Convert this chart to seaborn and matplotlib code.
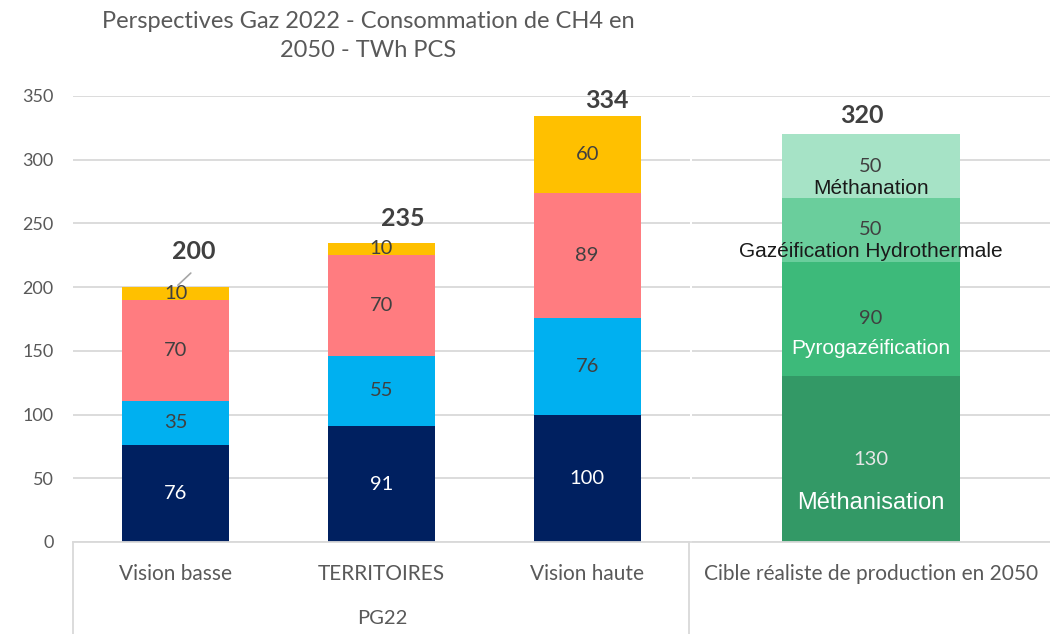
import matplotlib
matplotlib.use('Agg')
import matplotlib.pyplot as plt
import seaborn as sns
import pandas as pd
import numpy as np
from matplotlib.lines import Line2D

# data (TWh PCS), segments listed bottom to top
categories = ['Vision basse', 'TERRITOIRES', 'Vision haute']
navy_vals = [76, 91, 100]
blue_vals = [35, 55, 76]
salmon_vals = [79, 79, 98]
gold_vals = [10, 10, 60]
navy_labels = ['76', '91', '100']
blue_labels = ['35', '55', '76']
salmon_labels = ['70', '70', '89']
gold_labels = ['10', '10', '60']
totals = [200, 235, 334]
group_label = 'PG22'

target_category = ['Cible réaliste de production en 2050']
target_vals = [130, 90, 50, 50]
target_names = ['Méthanisation', 'Pyrogazéification', 'Gazéification Hydrothermale', 'Méthanation']
target_total = 320

TITLE = 'Perspectives Gaz 2022 - Consommation de CH4 en\n2050 - TWh PCS'

# styles
LEFT_COLORS = ['#002060', '#00B0F0', '#FF7C80', '#FFC000']
LEFT_TXT = ['white', '#404040', '#404040', '#404040']
RIGHT_COLORS = ['#339966', '#3DBA7A', '#6ACE9C', '#A6E3C6']
RIGHT_TXT = ['#E6E6E6', '#404040', '#404040', '#404040']
NAME_TXT = ['white', 'white', '#1a1a1a', '#1a1a1a']
NAME_SIZE = [17, 15, 15, 15]
GRID = '#D9D9D9'
GREY = '#595959'

sns.set_theme(style='white')
plt.rcParams['font.family'] = ['Lato', 'DejaVu Sans']

W, H = 1050, 634
fig = plt.figure(figsize=(W / 100, H / 100), dpi=100)
ax1 = fig.add_axes([73 / W, 92 / H, 617 / W, 446 / H])
ax2 = fig.add_axes([692 / W, 92 / H, 358 / W, 446 / H])


def stack(ax, cats, layers, colors, width):
    cum = np.cumsum(np.array(layers), axis=0)
    # draw tallest first so lower segments sit on top
    for i in range(len(layers) - 1, -1, -1):
        df = pd.DataFrame({'cat': cats, 'val': cum[i]})
        sns.barplot(data=df, x='cat', y='val', color=colors[i], saturation=1,
                    width=width, linewidth=0, ax=ax)
    return cum


left_layers = [navy_vals, blue_vals, salmon_vals, gold_vals]
left_labels = [navy_labels, blue_labels, salmon_labels, gold_labels]
cum_l = stack(ax1, categories, left_layers, LEFT_COLORS, 0.52)
for i, layer in enumerate(left_layers):
    for j, v in enumerate(layer):
        ax1.text(j, cum_l[i][j] - v / 2, left_labels[i][j], ha='center', va='center',
                 fontsize=14.5, color=LEFT_TXT[i])

# totals with small offsets
tot_off = [(18, 36), (21, 24), (20, 16)]
for j, t in enumerate(totals):
    ax1.annotate(str(t), (j, cum_l[-1][j]), xytext=tot_off[j], textcoords='offset pixels',
                 ha='center', va='center', fontsize=18, fontweight='bold', color='#404040')
ax1.annotate('', (0, cum_l[-1][0]), xytext=(17, 16), textcoords='offset pixels',
             arrowprops=dict(arrowstyle='-', color='#A6A6A6', lw=1.2))

target_layers = [[v] for v in target_vals]
cum_r = stack(ax2, target_category, target_layers, RIGHT_COLORS, 0.495)
name_off = [-44, -30, -22, -22]
for i, v in enumerate(target_vals):
    yc = cum_r[i][0] - v / 2
    ax2.text(0, yc, str(v), ha='center', va='center', fontsize=14.5, color=RIGHT_TXT[i])
    ax2.annotate(target_names[i], (0, yc), xytext=(0, name_off[i]), textcoords='offset pixels',
                 ha='center', va='center', fontsize=NAME_SIZE[i], color=NAME_TXT[i],
                 family='Liberation Sans')
ax2.annotate(str(target_total), (0, cum_r[-1][0]), xytext=(-9, 19), textcoords='offset pixels',
             ha='center', va='center', fontsize=18, fontweight='bold', color='#404040')

for ax in (ax1, ax2):
    ax.set_ylim(0, 350)
    ax.set_yticks(range(0, 351, 50))
    ax.yaxis.grid(True, color=GRID, lw=1.3)
    ax.set_axisbelow(True)
    ax.set_xlabel('')
    ax.set_ylabel('')
    for s in ('top', 'right', 'left'):
        ax.spines[s].set_visible(False)
    ax.spines['bottom'].set_color(GRID)
    ax.spines['bottom'].set_linewidth(1.3)
    ax.tick_params(axis='x', length=0, pad=16, labelsize=15, labelcolor=GREY)
    ax.tick_params(axis='y', length=0, pad=14, labelsize=13, labelcolor=GREY)
ax2.set_yticklabels([])
ax2.set_xlim(-0.5, 0.5)
ax1.set_xlim(-0.5, 2.5)

fig.text(382 / W, 1 - 618 / H, group_label, ha='center', va='center', fontsize=14.5, color=GREY)
for x in (73, 689):
    fig.add_artist(Line2D([x / W, x / W], [0, 92 / H], color=GRID, lw=1.3))

fig.text(368 / W, 1 - 36 / H, TITLE, ha='center', va='center', fontsize=17,
         color=GREY, linespacing=1.45)

fig.savefig('out.png', dpi=100)
